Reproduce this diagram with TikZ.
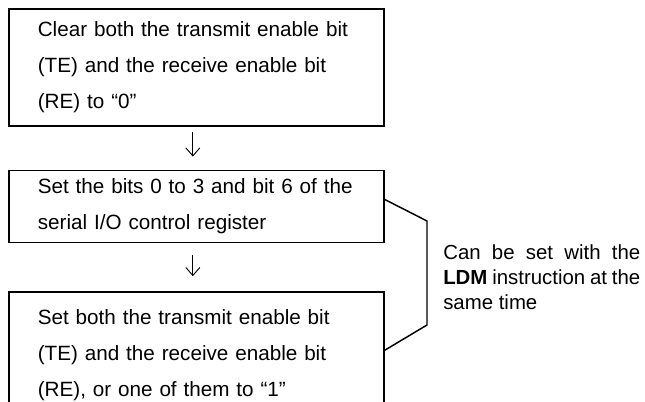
\documentclass[tikz,border=0pt]{standalone}
\usepackage{fontspec}
\setmainfont{Liberation Sans}
\usetikzlibrary{arrows.meta,positioning}
\begin{document}
\begin{tikzpicture}[x=0.75pt,y=-0.75pt,box/.style={draw,line width=1.2pt,inner xsep=21.75pt,inner ysep=0pt,text width=237.75pt,align=left,font=\fontsize{15.5}{27}\selectfont},arr/.style={-{Straight Barb[length=6pt,width=10.5pt]},line width=0.7pt},brace/.style={line width=1.1pt},note/.style={inner sep=0pt,text width=147.75pt,align=justify,font=\fontsize{15.3}{18.75}\selectfont}]
\useasboundingbox (0,0) rectangle (645,402);
\clip (0,0) rectangle (645,402);
\node[box,minimum height=87.75pt,anchor=north west] (clr) at (8,8) {Clear both the transmit enable bit\\(TE) and the receive enable bit\\(RE) to “0”\par\vspace{9pt}};
\node[box,minimum height=54pt,below=32.25pt of clr] (bits) {Set the bits 0 to 3 and bit 6 of the\\serial I/O control register};
\node[box,minimum height=95pt,below=36pt of bits] (ena) {Set both the transmit enable bit\\(TE) and the receive enable bit\\(RE), or one of them to “1”};
\node[note,anchor=west] (ldm) at (443,277) {Can be set with the\linebreak \textbf{LDM} instruction at the\linebreak same time};
\coordinate (b1) at (427,221);
\coordinate (b2) at (427,325);
\draw[arr,shorten <=3.75pt,shorten >=9.75pt]([xshift=-2.6pt]clr.south)--([xshift=-2.6pt]bits.north);
\draw[arr,shorten <=9pt,shorten >=11.25pt]([xshift=-2.6pt]bits.south)--([xshift=-2.6pt]ena.north);
\draw[brace]([yshift=5.25pt]bits.east)--(b1)--(b2)--([yshift=3.75pt]ena.east);
\end{tikzpicture}
\end{document}
